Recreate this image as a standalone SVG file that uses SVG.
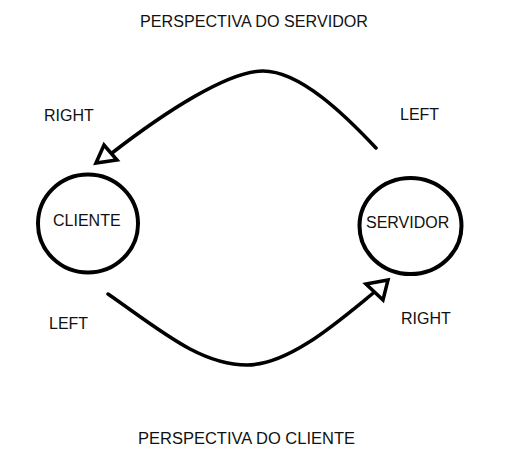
<svg xmlns="http://www.w3.org/2000/svg" width="520" height="465" viewBox="0 0 520 465">
<style>
.t{font-family:"Liberation Sans",Arial,sans-serif;font-size:16px;fill:#111}
.n{fill:#fff;stroke:#000;stroke-width:4}
.c{fill:none;stroke:#000;stroke-width:3.5;stroke-linecap:round}
.h{fill:#fff;stroke:#000;stroke-width:3.5;stroke-linejoin:miter}
</style>
<rect width="520" height="465" fill="#fff"/>
<g id="labels">
<text class="t" x="140" y="27" textLength="228" lengthAdjust="spacingAndGlyphs">PERSPECTIVA DO SERVIDOR</text>
<text class="t" x="44" y="121">RIGHT</text>
<text class="t" x="400" y="120">LEFT</text>
<text class="t" x="49" y="329">LEFT</text>
<text class="t" x="401" y="324">RIGHT</text>
<text class="t" x="138" y="444" textLength="217" lengthAdjust="spacingAndGlyphs">PERSPECTIVA DO CLIENTE</text>
</g>
<g id="connectors">
<path class="c" d="M376,148 C345,115 300,71 263,71 C228,71 165,112 112,153"/>
<polygon class="h" points="96,163 104,145 117,160"/>
<path class="c" d="M108,294 C160,330 200,365 247,365 C290,365 340,320 377,290"/>
<polygon class="h" points="366,284 388,280 383,300"/>
</g>
<g id="cliente">
<ellipse class="n" cx="88" cy="223.5" rx="50" ry="49"/>
<text class="t" x="53" y="226">CLIENTE</text>
</g>
<g id="servidor">
<ellipse class="n" cx="410.5" cy="226" rx="51" ry="48"/>
<text class="t" x="366" y="228">SERVIDOR</text>
</g>
</svg>
